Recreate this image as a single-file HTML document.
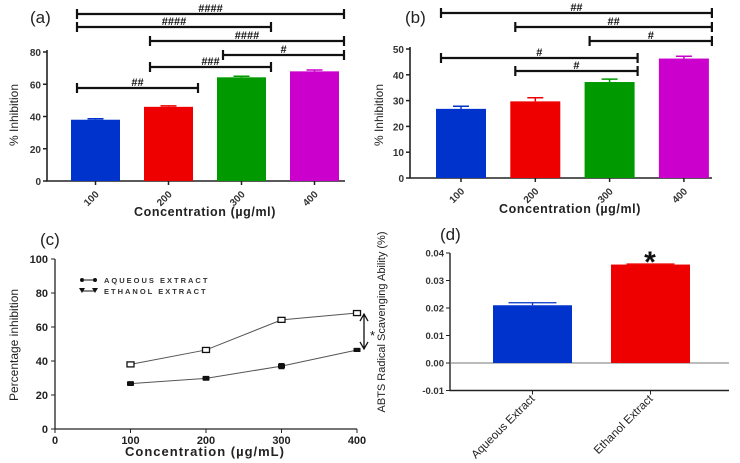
<!DOCTYPE html>
<html><head><meta charset="utf-8"><style>
body{margin:0;background:#fff}
svg{display:block;font-family:"Liberation Sans",sans-serif}
</style></head><body>
<svg id="fig" width="740" height="463" viewBox="0 0 740 463"></svg>
<script>
const concCats=["100","200","300","400"];
const aVals=[38,46,64.3,68];
const aErr=[0.6,0.6,0.7,0.8];
const aTicks=[0,20,40,60,80];
const bVals=[26.8,29.7,37.2,46.3];
const bErr=[1.0,1.4,1.1,0.9];
const bTicks=[0,10,20,30,40,50];
const barColors=["#0033cc","#ee0000","#009900","#cc00cc"];
const aSig=[[0,3,"####"],[0,2,"####"],[1,3,"####"],[2,3,"#"],[1,2,"###"],[0,1,"##"]];
const bSig=[[0,3,"##"],[1,3,"##"],[2,3,"#"],[0,2,"#"],[1,2,"#"]];
const cX=[100,200,300,400];
const cAq=[38,46.5,64.2,68.2];
const cEt=[26.7,29.8,37,46.5];
const cEtErr=[1,1,1.4,0.8];
const cYTicks=[0,20,40,60,80,100];
const cXTicks=[0,100,200,300,400];
const dCats=["Aqueous Extract","Ethanol Extract"];
const dVals=[0.021,0.0358];
const dErr=[0.0009,0.0002];
const dTicks=[-0.01,0,0.01,0.02,0.03,0.04];
const dColors=["#0033cc","#ee0000"];

const svg=document.getElementById('fig');
const NS="http://www.w3.org/2000/svg";
function el(tag,attrs,parent,text){const e=document.createElementNS(NS,tag);for(const k in attrs)e.setAttribute(k,attrs[k]);if(text!==undefined)e.textContent=text;(parent||svg).appendChild(e);return e;}
function grp(name){const g=el('g',{});return g;}

function barPanel(o){
  const g=grp(o.name);
  const y=v=>o.y0-(v/o.ymax)*(o.y0-o.ytop);
  const bx=i=>o.bx0+i*o.step;
  const lab=el('text',{x:o.lx,y:o.ly,'font-size':17,fill:'#222'},g,o.label);
  
  const ax=el('path',{d:`M${o.ax},${o.ytop-2}V${o.y0}H${o.xend}`,stroke:'#222','stroke-width':1.6,fill:'none'},g);
  
  o.ticks.forEach(t=>{
    el('line',{x1:o.ax-4,x2:o.ax,y1:y(t),y2:y(t),stroke:'#222','stroke-width':1.5},g);
    const tl=el('text',{x:o.ax-6,y:y(t)+4,'font-size':10,'font-weight':'bold','text-anchor':'end',fill:'#333'},g,t);
    
  });
  o.vals.forEach((v,i)=>{
    const x=bx(i);
    const r=el('rect',{x:x,y:y(v),width:o.bw,height:o.y0-y(v),fill:barColors[i]},g);
    
    const cx=x+o.bw/2, ye=y(v+o.err[i]);
    el('path',{d:`M${cx},${y(v)}V${ye}M${cx-8},${ye}H${cx+8}`,stroke:barColors[i],'stroke-width':1.5},g);
    el('line',{x1:cx,x2:cx,y1:o.y0,y2:o.y0+4,stroke:'#222','stroke-width':1.5},g);
    const t=el('text',{x:cx+4,y:o.y0+14,'font-size':10,'font-weight':'bold','text-anchor':'end',fill:'#333',transform:`rotate(-45 ${cx+4} ${o.y0+14})`},g,concCats[i]);
    
  });
  o.sig.forEach((s,k)=>{
    const yy=o.sigY[k];
    const x1=bx(s[0])+o.sigOff, x2=bx(s[1])+o.bw+o.sigOff2;
    const l=el('path',{d:`M${x1},${yy}H${x2}M${x1},${yy-5}V${yy+5}M${x2},${yy-5}V${yy+5}`,stroke:'#111','stroke-width':2.2},g);
    
    const t=el('text',{x:(x1+x2)/2,y:yy-2,'font-size':11,'font-weight':'bold','text-anchor':'middle',fill:'#111'},g,s[2]);
    
  });
  const xt=el('text',{x:o.xtx,y:o.xty,'font-size':12.5,'font-weight':'bold','text-anchor':'middle',fill:'#222','letter-spacing':'0.6'},g,'Concentration (\u00b5g/ml)');
  
  const yt=el('text',{x:o.ytx,y:o.yty,'font-size':12,'text-anchor':'middle',fill:'#222',transform:`rotate(-90 ${o.ytx} ${o.yty})`},g,'% Inhibition');
  
}
barPanel({name:'panel-a',label:'(a)',lx:30,ly:23,ax:47,y0:181,ytop:52,ymax:80,xend:345,bx0:71,step:73,bw:49,vals:aVals,err:aErr,ticks:aTicks,
  sig:aSig,sigY:[14,27,41,55,67,88],sigOff:6,sigOff2:5,xtx:205,xty:216,ytx:18,yty:115});
barPanel({name:'panel-b',label:'(b)',lx:405,ly:23,ax:410,y0:178,ytop:49,ymax:50,xend:712,bx0:436,step:74.3,bw:50,vals:bVals,err:bErr,ticks:bTicks,
  sig:bSig,sigY:[13,27,41,58,71],sigOff:5,sigOff2:3,xtx:570,xty:213,ytx:383,yty:115});

(function(){
  const g=grp('panel-c');
  const x=v=>55+v/400*302, y=v=>429-v/100*170;
  const lab=el('text',{x:40,y:245,'font-size':17,fill:'#222'},g,'(c)');
  
  const ax=el('path',{d:`M${x(0)},${y(100)}V${y(0)}H${x(400)}`,stroke:'#222','stroke-width':1.3,fill:'none'},g);
  
  cYTicks.forEach(t=>{el('line',{x1:x(0)-4,x2:x(0),y1:y(t),y2:y(t),stroke:'#222'},g);
    const tl=el('text',{x:x(0)-7,y:y(t)+4,'font-size':11,'font-weight':'bold','text-anchor':'end',fill:'#222'},g,t);
    });
  cXTicks.forEach(t=>{el('line',{x1:x(t),x2:x(t),y1:y(0),y2:y(0)+4,stroke:'#222'},g);
    const tl=el('text',{x:x(t),y:y(0)+15,'font-size':11,'font-weight':'bold','text-anchor':'middle',fill:'#222'},g,t);
    });
  const pa=el('polyline',{points:cX.map((v,i)=>x(v)+','+y(cAq[i])).join(' '),fill:'none',stroke:'#555','stroke-width':1},g);
  
  const pe=el('polyline',{points:cX.map((v,i)=>x(v)+','+y(cEt[i])).join(' '),fill:'none',stroke:'#555','stroke-width':1},g);
  
  cX.forEach((v,i)=>{
    const m=el('rect',{x:x(v)-3.5,y:y(cAq[i])-2.5,width:7,height:5,fill:'#fff',stroke:'#111','stroke-width':1.3},g);
    
    const yt=y(cEt[i]+cEtErr[i]), yb=y(cEt[i]-cEtErr[i]);
    el('path',{d:`M${x(v)},${yt}V${yb}M${x(v)-3},${yt}H${x(v)+3}M${x(v)-3},${yb}H${x(v)+3}`,stroke:'#111','stroke-width':1.5},g);
    const e=el('rect',{x:x(v)-3.5,y:y(cEt[i])-2,width:7,height:4,fill:'#111'},g);
    
  });
  const leg=grp('legend');g.appendChild(leg);
  el('path',{d:'M82,280H95',stroke:'#111'},leg);el('circle',{cx:82,cy:280,r:2,fill:'#111'},leg);el('circle',{cx:95,cy:280,r:2,fill:'#111'},leg);
  const t1=el('text',{x:104,y:283,'font-size':7.5,'font-weight':'bold',fill:'#333','letter-spacing':'2'},leg,'AQUEOUS EXTRACT');
  
  el('path',{d:'M82,291H95',stroke:'#111'},leg);el('path',{d:'M79,288H85L82,293Z M92,288H98L95,293Z',fill:'#111'},leg);
  const t2=el('text',{x:104,y:294,'font-size':7.5,'font-weight':'bold',fill:'#333','letter-spacing':'2'},leg,'ETHANOL EXTRACT');
  
  const ar=el('path',{d:`M364,${y(cAq[3])+2}V${y(cEt[3])-2}M360,${y(cAq[3])+8}L364,${y(cAq[3])+1}L368,${y(cAq[3])+8}M360,${y(cEt[3])-8}L364,${y(cEt[3])-1}L368,${y(cEt[3])-8}`,stroke:'#111','stroke-width':1.3,fill:'none'},g);
  
  el('text',{x:370,y:340,'font-size':13,fill:'#111'},g,'*');
  const xt=el('text',{x:205,y:456,'font-size':13,'font-weight':'bold','text-anchor':'middle',fill:'#222','letter-spacing':'1'},g,'Concentration (\u00b5g/mL)');
  
  const yt=el('text',{x:18,y:345,'font-size':12,'text-anchor':'middle',fill:'#222',transform:'rotate(-90 18 345)'},g,'Percentage inhibition');
  
})();

(function(){
  const g=grp('panel-d');
  const y=v=>363-v/0.01*27.5;
  const bx=[493,611], bw=79;
  const lab=el('text',{x:440,y:240,'font-size':17,fill:'#222'},g,'(d)');
  
  const ax=el('path',{d:`M450,${y(0.04)}V${y(-0.01)}H729`,stroke:'#222','stroke-width':1.4,fill:'none'},g);
  
  el('line',{x1:450,x2:729,y1:y(0),y2:y(0),stroke:'#777','stroke-width':1},g);
  dTicks.forEach(t=>{el('line',{x1:446,x2:450,y1:y(t),y2:y(t),stroke:'#222'},g);
    const tl=el('text',{x:444,y:y(t)+3.5,'font-size':9.5,'font-weight':'bold','text-anchor':'end',fill:'#333'},g,t.toFixed(2));
    });
  dVals.forEach((v,i)=>{
    const r=el('rect',{x:bx[i],y:y(v),width:bw,height:y(0)-y(v),fill:dColors[i]},g);
    
    const cx=bx[i]+bw/2, ye=y(v+dErr[i]);
    el('path',{d:`M${cx},${y(v)}V${ye}M${cx-24},${ye}H${cx+24}`,stroke:dColors[i],'stroke-width':1.3},g);
    el('line',{x1:cx,x2:cx,y1:y(-0.01),y2:y(-0.01)+4,stroke:'#222'},g);
    const tx=cx+3, ty=y(-0.01)+9;
    const t=el('text',{x:tx,y:ty,'font-size':11.5,'text-anchor':'end',fill:'#222',transform:`rotate(-45 ${tx} ${ty})`},g,dCats[i]);
    
  });
  const st=el('text',{x:650,y:272,'font-size':30,'font-weight':'bold','text-anchor':'middle',fill:'#111'},g,'*');
  
  const yt=el('text',{x:385,y:322,'font-size':11,'text-anchor':'middle',fill:'#222',transform:'rotate(-90 385 322)'},g,'ABTS Radical Scavenging Ability (%)');
  
})();
</script>
</body></html>
